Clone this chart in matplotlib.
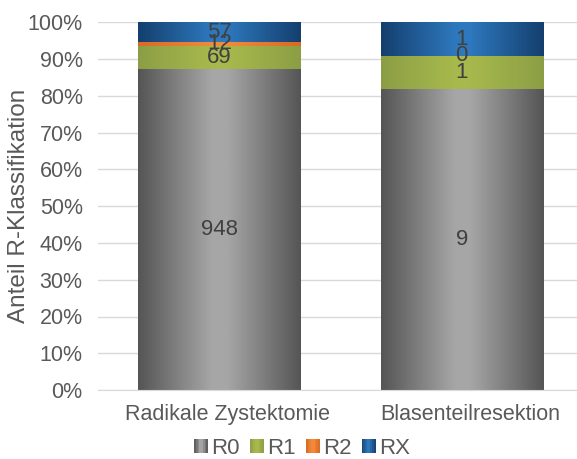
import numpy as np
import matplotlib
matplotlib.use("Agg")
import matplotlib.pyplot as plt
from matplotlib.patches import Rectangle
from matplotlib.colors import LinearSegmentedColormap
from matplotlib.legend_handler import HandlerBase
from matplotlib.transforms import ScaledTranslation

plt.rcParams['font.family'] = ['Liberation Sans', 'DejaVu Sans']

categories = ["Radikale Zystektomie", "Blasenteilresektion"]
series = ["R0", "R1", "R2", "RX"]
r0 = [948, 9]
r1 = [69, 1]
r2 = [12, 0]
rx = [57, 1]
y_ticks = [0, 10, 20, 30, 40, 50, 60, 70, 80, 90, 100]

# edge / centre colours for the cylindrical shading of each series
shades = {
    "R0": ("#555555", "#a6a6a6"),
    "R1": ("#8c9e45", "#a7b94c"),
    "R2": ("#d96a25", "#f28a3a"),
    "RX": ("#143f6e", "#2e78bd"),
}

def shade_cmap(name):
    edge, mid = shades[name]
    return LinearSegmentedColormap.from_list(
        name, [(0.0, edge), (0.45, mid), (0.55, mid), (1.0, edge)])

fig = plt.figure(figsize=(5.77, 4.59), dpi=100)
W, H = 577, 459
ax = fig.add_axes([98 / W, 1 - 390 / H, (583 - 98) / W, (390 - 22.5) / H])

values = np.array([r0, r1, r2, rx], dtype=float)
totals = values.sum(axis=0)
shares = values / totals * 100

bar_w = 0.67
grad = np.linspace(0, 1, 256).reshape(1, -1)
x = np.arange(len(categories))
bottoms = np.zeros(len(categories))
for si, name in enumerate(series):
    cmap = shade_cmap(name)
    for ci in range(len(categories)):
        h = shares[si, ci]
        x0 = x[ci] - bar_w / 2
        if h > 0:
            ax.imshow(grad, cmap=cmap, aspect='auto',
                      extent=(x0, x0 + bar_w, bottoms[ci], bottoms[ci] + h),
                      zorder=2, interpolation='bilinear')
        ax.text(x[ci], bottoms[ci] + h / 2, f"{int(values[si, ci])}",
                ha='center', va='center', fontsize=16, color='#404040', zorder=4)
    bottoms += shares[si]

ax.set_xlim(-0.5, 1.5)
ax.set_ylim(0, 100)
ax.set_yticks(y_ticks)
ax.set_yticklabels([f"{t}%" for t in y_ticks])
ax.set_xticks(x)
ax.set_xticklabels(categories)
ax.tick_params(axis='both', length=0, labelsize=15.5, colors='#595959')
ax.tick_params(axis='y', pad=11)
ax.tick_params(axis='x', pad=10)
shift = ScaledTranslation(8 / 100, 0, fig.dpi_scale_trans)
for lbl in ax.get_xticklabels():
    lbl.set_transform(lbl.get_transform() + shift)
ax.grid(axis='y', color='#d9d9d9', linewidth=1, zorder=0)
ax.set_axisbelow(True)
for side in ['top', 'right', 'left']:
    ax.spines[side].set_visible(False)
ax.spines['bottom'].set_color('#d9d9d9')
fig.text(19 / W, 1 - 206 / H, "Anteil R-Klassifikation", rotation=90,
         ha='center', va='center', fontsize=17.5, color='#595959')


class GradientHandler(HandlerBase):
    def create_artists(self, legend, orig_handle, xdescent, ydescent,
                       width, height, fontsize, trans):
        name = orig_handle.get_label()
        cmap = shade_cmap(name)
        side = min(width, height)
        x0 = -xdescent + (width - side) / 2
        y0 = -ydescent + (height - side) / 2
        artists = []
        n = 8
        for k in range(n):
            c = cmap((k + 0.5) / n)
            artists.append(Rectangle((x0 + k * side / n, y0),
                                     side / n + 0.2, side, facecolor=c,
                                     edgecolor='none', transform=trans))
        return artists


handles = [Rectangle((0, 0), 1, 1, label=s) for s in series]
ax.legend(handles=handles, labels=series, loc='center',
          bbox_to_anchor=(302 / W, 1 - 448 / H), bbox_transform=fig.transFigure,
          ncol=4, frameon=False, fontsize=16, labelcolor='#595959',
          handler_map={Rectangle: GradientHandler()},
          handlelength=0.63, handleheight=0.7, handletextpad=0.15,
          columnspacing=0.45, borderpad=0, borderaxespad=0)

fig.savefig("out.png", dpi=100)
